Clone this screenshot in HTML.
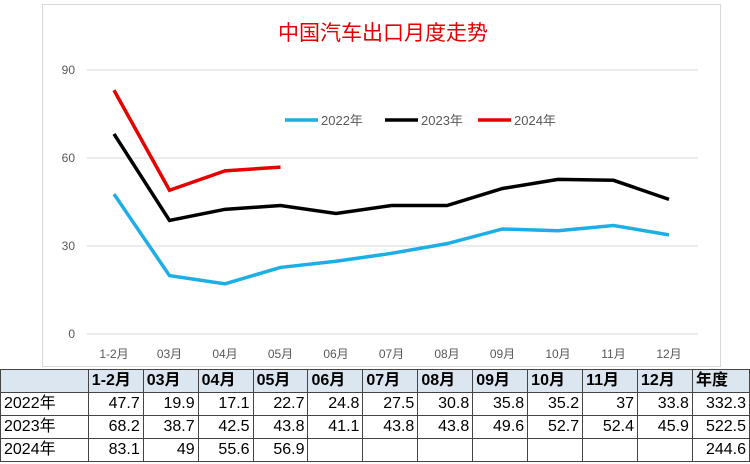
<!DOCTYPE html>
<html><head><meta charset="utf-8"><style>
body{margin:0;width:750px;height:464px;background:#fff;overflow:hidden;font-family:"Liberation Sans","Noto Sans CJK SC",sans-serif}
#chart{position:absolute;left:0;top:0}
table{position:absolute;left:0;top:369px;border-collapse:collapse;font-size:16px;line-height:20px;color:#000}
td{border:1px solid #444;height:23px;padding:0 3px;text-align:right;box-sizing:border-box}
tr.h td{background:#dce6f1;font-weight:bold;text-align:left}
td.r{text-align:left}
</style></head><body>
<svg id="chart" width="750" height="368">
<rect x="42.5" y="4.5" width="678" height="362" fill="#fff" stroke="#d9d9d9"/>
<text x="383" y="40" text-anchor="middle" font-size="21" fill="#e00000" font-family="Liberation Sans,Noto Sans CJK SC,sans-serif">中国汽车出口月度走势</text>
<g id="grid"></g><g id="lines"></g>
<g font-size="13" fill="#595959" font-family="Liberation Sans,Noto Sans CJK SC,sans-serif">
<line x1="285" y1="120" x2="318" y2="120" stroke="#1eaee6" stroke-width="3.5"/><text x="321" y="125">2022年</text>
<line x1="385" y1="120" x2="418" y2="120" stroke="#000" stroke-width="3.5"/><text x="421" y="125">2023年</text>
<line x1="478" y1="120" x2="511" y2="120" stroke="#e60000" stroke-width="3.5"/><text x="514" y="125">2024年</text>
</g>
</svg>
<table>
<tr class="h"><td style="width:88px"></td><td style="width:55px">1-2月</td><td style="width:55px">03月</td><td style="width:55px">04月</td><td style="width:55px">05月</td><td style="width:55px">06月</td><td style="width:55px">07月</td><td style="width:55px">08月</td><td style="width:55px">09月</td><td style="width:55px">10月</td><td style="width:55px">11月</td><td style="width:55px">12月</td><td style="width:57px">年度</td></tr>
<tr><td class="r">2022年</td><td>47.7</td><td>19.9</td><td>17.1</td><td>22.7</td><td>24.8</td><td>27.5</td><td>30.8</td><td>35.8</td><td>35.2</td><td>37</td><td>33.8</td><td>332.3</td></tr>
<tr><td class="r">2023年</td><td>68.2</td><td>38.7</td><td>42.5</td><td>43.8</td><td>41.1</td><td>43.8</td><td>43.8</td><td>49.6</td><td>52.7</td><td>52.4</td><td>45.9</td><td>522.5</td></tr>
<tr><td class="r">2024年</td><td>83.1</td><td>49</td><td>55.6</td><td>56.9</td><td></td><td></td><td></td><td></td><td></td><td></td><td></td><td>244.6</td></tr>
</table>
<script>
const categories=["1-2月","03月","04月","05月","06月","07月","08月","09月","10月","11月","12月"];
const s2022=[47.7,19.9,17.1,22.7,24.8,27.5,30.8,35.8,35.2,37,33.8];
const s2023=[68.2,38.7,42.5,43.8,41.1,43.8,43.8,49.6,52.7,52.4,45.9];
const s2024=[83.1,49,55.6,56.9];
const yTicks=[0,30,60,90];
const NS="http://www.w3.org/2000/svg";
const x=i=>114+i*55.5, y=v=>334-v*88/30;
const grid=document.getElementById('grid'), lines=document.getElementById('lines');
yTicks.forEach(t=>{
 const l=document.createElementNS(NS,'line');
 
 
 l.setAttribute('x1',87);l.setAttribute('x2',698);l.setAttribute('y1',y(t));l.setAttribute('y2',y(t));
 l.setAttribute('stroke','#d9d9d9');grid.appendChild(l);
 const tx=document.createElementNS(NS,'text');
 
 
 tx.setAttribute('x',75);tx.setAttribute('y',y(t)+4);tx.setAttribute('text-anchor','end');
 tx.setAttribute('font-size','12');tx.setAttribute('fill','#595959');tx.textContent=t;grid.appendChild(tx);
});
categories.forEach((c,i)=>{
 const tx=document.createElementNS(NS,'text');
 
 
 tx.setAttribute('x',x(i));tx.setAttribute('y',358);tx.setAttribute('text-anchor','middle');
 tx.setAttribute('font-size','12');tx.setAttribute('fill','#595959');tx.textContent=c;grid.appendChild(tx);
});
[[s2022,'#1eaee6','line-2022'],[s2023,'#000','line-2023'],[s2024,'#e60000','line-2024']].forEach(([d,col,n])=>{
 const p=document.createElementNS(NS,'polyline');
 
 
 p.setAttribute('points',d.map((v,i)=>x(i)+','+y(v)).join(' '));
 p.setAttribute('fill','none');p.setAttribute('stroke',col);p.setAttribute('stroke-width','3.5');
 lines.appendChild(p);
});
</script>
</body></html>
